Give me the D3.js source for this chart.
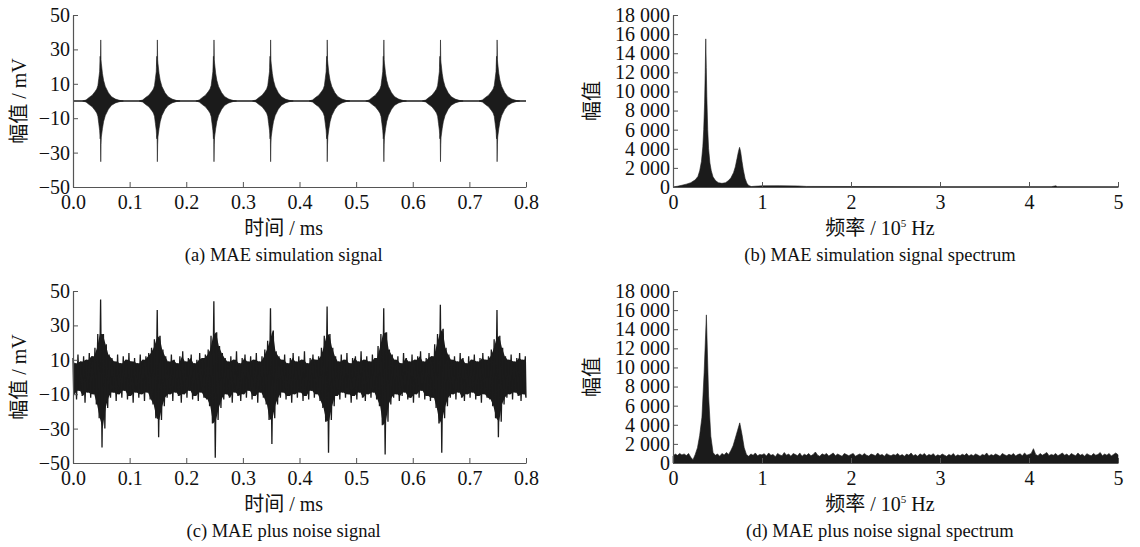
<!DOCTYPE html>
<html>
<head>
<meta charset="utf-8">
<script src="https://cdn.jsdelivr.net/npm/d3@7/dist/d3.min.js"></script>
<style>
  html, body { margin: 0; padding: 0; background: #fff; }
  svg { display: block; }
  .tick text { font-family: "Liberation Serif", "Times New Roman", serif; font-size: 20px; fill: #111; }
  .lbl { font-family: "Liberation Serif", "Noto Sans CJK SC", serif; font-size: 20px; fill: #111; }
  .cap { font-family: "Liberation Serif", "Times New Roman", serif; font-size: 18.5px; fill: #111; }
</style>
</head>
<body>
<svg id="fig" width="1140" height="547"></svg>
<script>
// ---------- time-domain axes ----------
const timeTicks = [0.0, 0.1, 0.2, 0.3, 0.4, 0.5, 0.6, 0.7, 0.8];
const voltTicks = [-50, -30, -10, 10, 30, 50];

// ---------- frequency-domain axes ----------
const freqTicks = [0, 1, 2, 3, 4, 5];
const ampTicks = [0, 2000, 4000, 6000, 8000, 10000, 12000, 14000, 16000, 18000];

// (a) MAE simulation signal: burst centres (ms) and one burst envelope
const burstCenters = [0.049, 0.149, 0.249, 0.349, 0.449, 0.549, 0.649, 0.749];
const burstOffsets = [-0.032, -0.026, -0.020, -0.015, -0.010, -0.007, -0.005, -0.0035, -0.002, -0.001, -0.0005, 0, 0.0005, 0.001, 0.003, 0.005, 0.008, 0.0135, 0.019, 0.026, 0.034, 0.040];
const burstUpper   = [0, 0.6, 2.2, 3.4, 5.5, 7, 9, 13, 17, 26, 20, 35.5, 24, 22, 16, 12, 8.5, 4.8, 2.5, 1.1, 0.3, 0];
const burstLower   = [0, -0.6, -2.2, -3.4, -5.5, -7, -9, -13, -17, -22, -20, -35.3, -25.5, -21, -16, -12, -8.5, -4.8, -2.5, -1.1, -0.3, 0];

// (c) MAE plus noise: upper / lower extremes per 0.005 ms sample
const noisyStepMs = 0.005;
const noisyUpper = [
  11, 8, 13, 9, 12, 10, 14, 12, 17, 25,
  45, 25, 19, 13, 11, 9, 13, 8, 12, 10,
  14, 9, 11, 8, 13, 10, 12, 14, 17, 22,
  39, 24, 16, 12, 9, 13, 10, 8, 12, 15,
  9, 11, 13, 8, 10, 14, 11, 13, 16, 24,
  44, 26, 18, 14, 11, 9, 12, 10, 15, 8,
  11, 13, 9, 12, 10, 14, 9, 12, 16, 21,
  40, 27, 15, 12, 10, 13, 8, 11, 14, 9,
  12, 10, 15, 8, 11, 13, 10, 12, 17, 24,
  41, 25, 17, 12, 9, 13, 10, 14, 8, 11,
  12, 9, 15, 10, 12, 9, 13, 11, 18, 25,
  40, 26, 16, 13, 10, 12, 8, 14, 11, 9,
  13, 10, 12, 15, 9, 11, 14, 12, 19, 25,
  42, 28, 17, 13, 10, 12, 9, 14, 11, 8,
  12, 10, 13, 9, 11, 14, 10, 12, 16, 22,
  39, 24, 17, 12, 10, 13, 9, 11, 14, 10,
  12
];
const noisyLower = [
  -10, -13, -8, -11, -15, -9, -12, -10, -16, -24,
  -41, -30, -18, -12, -9, -14, -10, -12, -8, -13,
  -11, -15, -9, -12, -10, -14, -9, -13, -16, -24,
  -35, -25, -17, -12, -10, -14, -9, -11, -15, -10,
  -12, -8, -13, -11, -14, -9, -12, -13, -17, -27,
  -47, -25, -18, -13, -10, -12, -15, -9, -11, -14,
  -10, -12, -8, -13, -11, -15, -9, -12, -16, -25,
  -39, -24, -16, -12, -9, -13, -11, -15, -10, -12,
  -9, -14, -11, -13, -8, -12, -10, -14, -18, -26,
  -44, -25, -17, -11, -13, -9, -12, -10, -15, -11,
  -13, -9, -12, -14, -10, -12, -9, -13, -17, -28,
  -45, -26, -16, -12, -10, -14, -11, -9, -13, -12,
  -15, -10, -12, -8, -13, -11, -14, -12, -18, -27,
  -44, -24, -17, -12, -10, -13, -9, -12, -14, -10,
  -12, -9, -13, -11, -15, -10, -12, -13, -17, -24,
  -35, -26, -16, -12, -10, -13, -9, -11, -14, -10,
  -12
];

// (b) spectrum of the simulation signal (frequency in 1e5 Hz)
const specFreq = [0, 0.05, 0.1, 0.15, 0.2, 0.25, 0.28, 0.3, 0.32, 0.335, 0.345, 0.355, 0.362, 0.368, 0.374, 0.38, 0.39, 0.40, 0.415, 0.43, 0.45, 0.48, 0.51, 0.55, 0.59, 0.62, 0.65, 0.68, 0.70, 0.72, 0.735, 0.748, 0.76, 0.775, 0.79, 0.81, 0.83, 0.85, 0.88, 0.92, 1.0, 1.2, 1.4, 1.5, 2.0, 3.0, 4.25, 4.3, 4.32, 5.0];
const specAmp  = [0, 80, 180, 300, 450, 750, 1100, 1700, 2700, 4200, 6000, 8800, 12000, 15500, 12500, 9500, 6000, 4000, 2500, 1700, 1050, 650, 450, 380, 450, 650, 950, 1500, 2100, 3000, 3700, 4150, 3700, 2700, 1800, 900, 400, 150, 50, 80, 120, 130, 110, 60, 50, 30, 30, 120, 30, 20];

// (d) spectrum of the noisy signal, sampled every 0.025 x 1e5 Hz
const noisySpecStep = 0.025;
const noisySpecAmp = [
  700, 950, 800, 1000, 850, 950, 780, 1000, 600, 350,
  900, 1600, 2900, 4800, 9500, 15500, 7000, 2800, 1100, 800,
  950, 700, 1000, 850, 1100, 900, 1300, 1800, 2600, 3400,
  4200, 3000, 1600, 900, 700, 950, 800, 1050, 750, 900,
  850, 980, 720, 1050, 800, 900, 650, 1000, 850, 760,
  1100, 820, 950, 700, 1000, 880, 760, 1050, 700, 920,
  800, 1000, 750, 900, 1150, 820, 700, 960, 850, 1000,
  720, 880, 1050, 760, 940, 820, 700, 1000, 880, 760,
  900, 1000, 700, 850, 950, 780, 1000, 820, 720, 950,
  860, 760, 1050, 800, 900, 700, 980, 840, 760, 900,
  820, 1000, 760, 880, 700, 940, 820, 1050, 760, 880,
  700, 960, 820, 1000, 720, 900, 800, 980, 700, 860,
  760, 940, 820, 700, 900, 780, 1000, 700, 860, 760,
  920, 800, 1000, 720, 880, 760, 950, 840, 700, 900,
  800, 1050, 720, 880, 780, 950, 830, 700, 1000, 860,
  760, 920, 800, 1000, 740, 880, 960, 760, 1050, 820,
  900, 1000, 1500, 900, 760, 1000, 820, 950, 1100, 760,
  900, 820, 1000, 760, 900, 1050, 800, 940, 720, 1000,
  860, 760, 1050, 800, 920, 700, 980, 840, 760, 1000,
  820, 900, 1100, 760, 940, 820, 1000, 740, 900, 1050,
  860
];

const svg = d3.select("#fig");
const INK = "#1b1b1b";
const AXIS = "#555";

// plot frames for the four panels
const frames = {
  a: { left: 73, right: 526, top: 15, bottom: 187 },
  b: { left: 673, right: 1118, top: 15, bottom: 187 },
  c: { left: 73, right: 526, top: 291, bottom: 463 },
  d: { left: 673, right: 1118, top: 291, bottom: 463 }
};

// labels and captions sit a little left of the plot centre
const labelShift = 0.035;
const centreX = f => f.left + (0.5 - labelShift) * (f.right - f.left);

function drawAxes(f, x, y, xTicks, yTicks, xFmt, yFmt) {
  const gx = svg.append("g").attr("transform", `translate(0,${f.bottom})`)
    .call(d3.axisBottom(x).tickValues(xTicks).tickFormat(xFmt).tickSizeInner(-5).tickSizeOuter(0).tickPadding(5));
  const gy = svg.append("g").attr("transform", `translate(${f.left},0)`)
    .call(d3.axisLeft(y).tickValues(yTicks).tickFormat(yFmt).tickSizeInner(-5).tickSizeOuter(0).tickPadding(3));
  [gx, gy].forEach(g => {
    g.select(".domain").attr("stroke", AXIS).attr("stroke-width", 1.2);
    g.selectAll(".tick line").attr("stroke", AXIS).attr("stroke-width", 1);
  });
  gx.selectAll(".tick text").attr("dy", "0.85em");
  return { gx, gy };
}

function xLabel(f, parts, y) {
  const t = svg.append("text").attr("class", "lbl")
    .attr("x", centreX(f)).attr("y", y).attr("text-anchor", "middle");
  parts.forEach(p => {
    const s = t.append("tspan").text(p.text);
    if (p.sup) s.attr("font-size", 11).attr("dy", -8);
    if (p.after) s.attr("dy", 8);
  });
}

function yLabel(f, text, x) {
  svg.append("text").attr("class", "lbl")
    .attr("transform", `translate(${x},${(f.top + f.bottom) / 2}) rotate(-90)`)
    .attr("text-anchor", "middle").attr("dy", "0.35em").text(text);
}

function caption(f, text, y) {
  svg.append("text").attr("class", "cap")
    .attr("x", centreX(f)).attr("y", y).attr("text-anchor", "middle").text(text);
}

const numFmt = v => d3.format(",")(v).replace(/,/g, " ");
const voltFmt = v => v < 0 ? "\u2212" + Math.abs(v) : String(v);

// ---------- (a) ----------
{
  const f = frames.a;
  const x = d3.scaleLinear().domain([0, 0.8]).range([f.left, f.right]);
  const y = d3.scaleLinear().domain([-50, 50]).range([f.bottom, f.top]);
  // flat baseline of the signal between bursts
  svg.append("line").attr("x1", x(0)).attr("x2", x(0.8)).attr("y1", y(0)).attr("y2", y(0))
    .attr("stroke", INK).attr("stroke-width", 1.3);
  const area = d3.area()
    .x(d => x(d.t)).y0(d => y(d.lo)).y1(d => y(d.hi));
  burstCenters.forEach(c => {
    const pts = burstOffsets.map((o, i) => ({ t: c + o, hi: burstUpper[i], lo: burstLower[i] }));
    svg.append("path").datum(pts).attr("d", area).attr("fill", INK).attr("stroke", INK).attr("stroke-width", 0.6);
  });
  drawAxes(f, x, y, timeTicks, voltTicks, d3.format(".1f"), voltFmt);
  yLabel(f, "幅值 / mV", 19);
  xLabel(f, [{ text: "时间 / ms" }], 235);
  caption(f, "(a) MAE simulation signal", 261);
}

// ---------- (b) ----------
{
  const f = frames.b;
  const x = d3.scaleLinear().domain([0, 5]).range([f.left, f.right]);
  const y = d3.scaleLinear().domain([0, 18000]).range([f.bottom, f.top]);
  const pts = specFreq.map((fr, i) => ({ f: fr, a: specAmp[i] }));
  svg.append("path").datum(pts)
    .attr("d", d3.area().x(d => x(d.f)).y0(y(0)).y1(d => y(d.a)))
    .attr("fill", INK).attr("stroke", INK).attr("stroke-width", 0.6);
  drawAxes(f, x, y, freqTicks, ampTicks, d3.format("d"), numFmt);
  yLabel(f, "幅值", 592);
  xLabel(f, [{ text: "频率 / 10" }, { text: "5", sup: true }, { text: " Hz", after: true }], 235);
  caption(f, "(b) MAE simulation signal spectrum", 261);
}

// ---------- (c) ----------
{
  const f = frames.c;
  const x = d3.scaleLinear().domain([0, 0.8]).range([f.left, f.right]);
  const y = d3.scaleLinear().domain([-50, 50]).range([f.bottom, f.top]);
  const n = noisyUpper.length;
  // dense core: between neighbouring samples the band is filled up to the lower of the two extremes
  const core = [];
  for (let i = 0; i < n - 1; i++) {
    core.push({
      t: (i + 0.5) * noisyStepMs,
      hi: Math.min(noisyUpper[i], noisyUpper[i + 1]),
      lo: Math.max(noisyLower[i], noisyLower[i + 1])
    });
  }
  core.unshift({ t: 0, hi: noisyUpper[0], lo: noisyLower[0] });
  core.push({ t: 0.8, hi: noisyUpper[n - 1], lo: noisyLower[n - 1] });
  svg.append("path").datum(core)
    .attr("d", d3.area().x(d => x(d.t)).y0(d => y(d.lo)).y1(d => y(d.hi)))
    .attr("fill", INK);
  // the trace swings between each sample's upper and lower extreme
  const trace = [];
  noisyUpper.forEach((u, i) => {
    const t = i * noisyStepMs;
    trace.push({ t: Math.max(0, t - noisyStepMs / 4), v: u });
    trace.push({ t: Math.min(0.8, t + noisyStepMs / 4), v: noisyLower[i] });
  });
  svg.append("path").datum(trace)
    .attr("d", d3.line().x(d => x(d.t)).y(d => y(d.v)))
    .attr("fill", "none").attr("stroke", INK).attr("stroke-width", 1.3).attr("stroke-linejoin", "miter");
  drawAxes(f, x, y, timeTicks, voltTicks, d3.format(".1f"), voltFmt);
  yLabel(f, "幅值 / mV", 19);
  xLabel(f, [{ text: "时间 / ms" }], 511);
  caption(f, "(c) MAE plus noise signal", 537);
}

// ---------- (d) ----------
{
  const f = frames.d;
  const x = d3.scaleLinear().domain([0, 5]).range([f.left, f.right]);
  const y = d3.scaleLinear().domain([0, 18000]).range([f.bottom, f.top]);
  const pts = noisySpecAmp.map((a, i) => ({ f: i * noisySpecStep, a }));
  svg.append("path").datum(pts)
    .attr("d", d3.area().x(d => x(d.f)).y0(y(0)).y1(d => y(d.a)))
    .attr("fill", INK).attr("stroke", INK).attr("stroke-width", 0.6);
  drawAxes(f, x, y, freqTicks, ampTicks, d3.format("d"), numFmt);
  yLabel(f, "幅值", 592);
  xLabel(f, [{ text: "频率 / 10" }, { text: "5", sup: true }, { text: " Hz", after: true }], 511);
  caption(f, "(d) MAE plus noise signal spectrum", 537);
}
</script>
</body>
</html>
